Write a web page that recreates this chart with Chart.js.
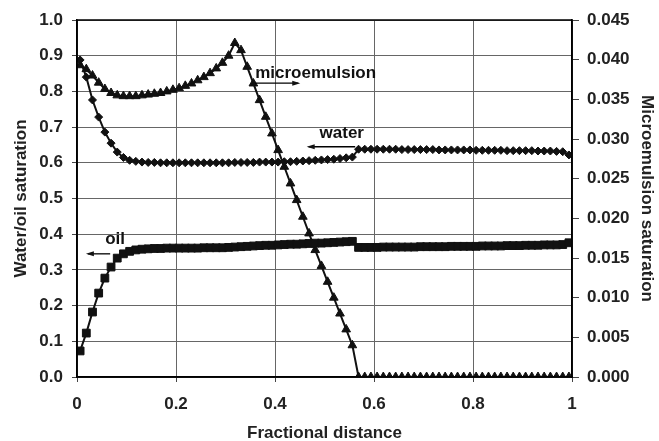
<!DOCTYPE html>
<html>
<head>
<meta charset="utf-8">
<script src="https://cdn.jsdelivr.net/npm/chart.js@4"></script>
<style>
  html, body { margin: 0; padding: 0; background: #fff; }
  #wrap { width: 659px; height: 441px; }
</style>
</head>
<body>
<div id="wrap"><canvas id="chart" width="659" height="441"></canvas></div>
<script>
// grid cell centres (fractional distance)
const distance = [
  0.0063, 0.0188, 0.0313, 0.0438, 0.0563, 0.0688, 0.0813, 0.0938, 0.1063, 0.1188,
  0.1313, 0.1438, 0.1563, 0.1688, 0.1813, 0.1938, 0.2063, 0.2188, 0.2313, 0.2438,
  0.2563, 0.2688, 0.2813, 0.2938, 0.3063, 0.3188, 0.3313, 0.3438, 0.3563, 0.3688,
  0.3813, 0.3938, 0.4063, 0.4188, 0.4313, 0.4438, 0.4563, 0.4688, 0.4813, 0.4938,
  0.5063, 0.5188, 0.5313, 0.5438, 0.5563, 0.5688, 0.5813, 0.5938, 0.6063, 0.6188,
  0.6313, 0.6438, 0.6563, 0.6688, 0.6813, 0.6938, 0.7063, 0.7188, 0.7313, 0.7438,
  0.7563, 0.7688, 0.7813, 0.7938, 0.8063, 0.8188, 0.8313, 0.8438, 0.8563, 0.8688,
  0.8813, 0.8938, 0.9063, 0.9188, 0.9313, 0.9438, 0.9563, 0.9688, 0.9813, 0.9938
];

// water saturation (left axis)
const water = [
  0.888, 0.840, 0.776, 0.728, 0.686, 0.655, 0.630, 0.615, 0.607, 0.604,
  0.602, 0.601, 0.601, 0.600, 0.600, 0.600, 0.600, 0.600, 0.600, 0.600,
  0.600, 0.600, 0.600, 0.600, 0.600, 0.601, 0.601, 0.601, 0.601, 0.602,
  0.602, 0.602, 0.602, 0.603, 0.603, 0.604, 0.605, 0.606, 0.607, 0.608,
  0.609, 0.610, 0.612, 0.614, 0.616, 0.638, 0.638, 0.638, 0.638, 0.638,
  0.638, 0.638, 0.637, 0.637, 0.637, 0.637, 0.637, 0.637, 0.636, 0.636,
  0.636, 0.636, 0.636, 0.636, 0.635, 0.635, 0.635, 0.635, 0.635, 0.634,
  0.634, 0.634, 0.634, 0.634, 0.633, 0.633, 0.633, 0.632, 0.631, 0.622
];

// oil saturation (left axis)
const oil = [
  0.073, 0.123, 0.182, 0.235, 0.277, 0.308, 0.333, 0.345, 0.352, 0.356,
  0.358, 0.359, 0.360, 0.360, 0.361, 0.361, 0.361, 0.361, 0.361, 0.361,
  0.362, 0.362, 0.362, 0.362, 0.363, 0.364, 0.365, 0.366, 0.367, 0.368,
  0.369, 0.369, 0.370, 0.371, 0.372, 0.372, 0.373, 0.374, 0.375, 0.375,
  0.376, 0.377, 0.378, 0.379, 0.380, 0.363, 0.363, 0.363, 0.363, 0.364,
  0.364, 0.364, 0.364, 0.364, 0.364, 0.365, 0.365, 0.365, 0.365, 0.365,
  0.366, 0.366, 0.366, 0.366, 0.366, 0.367, 0.367, 0.367, 0.367, 0.368,
  0.368, 0.368, 0.369, 0.369, 0.369, 0.370, 0.370, 0.370, 0.371, 0.376
];

// microemulsion saturation (right axis)
const microemulsion = [
  0.0393, 0.0388, 0.0380, 0.0371, 0.0363, 0.0358, 0.0355, 0.0354, 0.0354, 0.0354,
  0.0355, 0.0356, 0.0357, 0.0358, 0.0360, 0.0362, 0.0364, 0.0367, 0.0370, 0.0374,
  0.0378, 0.0383, 0.0389, 0.0396, 0.0405, 0.0421, 0.0412, 0.0391, 0.0370, 0.0349,
  0.0328, 0.0307, 0.0286, 0.0265, 0.0244, 0.0223, 0.0202, 0.0181, 0.0160, 0.0140,
  0.0120, 0.0100, 0.0080, 0.0060, 0.0040, 0, 0, 0, 0, 0,
  0, 0, 0, 0, 0, 0, 0, 0, 0, 0,
  0, 0, 0, 0, 0, 0, 0, 0, 0, 0,
  0, 0, 0, 0, 0, 0, 0, 0, 0, 0
];

const FONT = '"Liberation Sans", Arial, sans-serif';

function pts(ys) {
  return distance.map((x, i) => ({ x: x, y: ys[i] }));
}

// text labels with arrows, in data units
const notes = [
  { text: 'microemulsion', tx: 0.36, ty: 0.852, ax0: 0.36, ax1: 0.447, ay: 0.823 },
  { text: 'water', tx: 0.49, ty: 0.683, ax0: 0.562, ax1: 0.468, ay: 0.645 },
  { text: 'oil', tx: 0.057, ty: 0.387, ax0: 0.067, ax1: 0.022, ay: 0.345 }
];

const extras = {
  id: 'extras',
  afterDatasetsDraw(chart) {
    const ctx = chart.ctx, a = chart.chartArea;
    const sx = chart.scales.x, sy = chart.scales.y;
    ctx.save();
    ctx.strokeStyle = '#000';
    ctx.lineWidth = 1.5;
    ctx.strokeRect(a.left, a.top, a.right - a.left, a.bottom - a.top);

    ctx.fillStyle = '#111';
    ctx.font = 'bold 17px ' + FONT;
    ctx.textBaseline = 'middle';
    ctx.textAlign = 'left';
    notes.forEach(n => {
      ctx.fillText(n.text, sx.getPixelForValue(n.tx), sy.getPixelForValue(n.ty));
      const x0 = sx.getPixelForValue(n.ax0), x1 = sx.getPixelForValue(n.ax1);
      const y = sy.getPixelForValue(n.ay);
      const dir = x1 > x0 ? 1 : -1;
      ctx.lineWidth = 1.3;
      ctx.beginPath();
      ctx.moveTo(x0, y);
      ctx.lineTo(x1, y);
      ctx.stroke();
      ctx.beginPath();
      ctx.moveTo(x1 + dir * 2, y);
      ctx.lineTo(x1 - dir * 6, y - 2.5);
      ctx.lineTo(x1 - dir * 6, y + 2.5);
      ctx.closePath();
      ctx.fill();
    });
    ctx.restore();
  }
};

const tickFont = { family: FONT, size: 17, weight: 'bold' };
const titleFont = { family: FONT, size: 17, weight: 'bold', lineHeight: 1 };

new Chart(document.getElementById('chart'), {
  type: 'line',
  data: {
    datasets: [
      {
        label: 'water', data: pts(water), yAxisID: 'y',
        borderColor: '#111', backgroundColor: '#111', borderWidth: 2,
        pointStyle: 'rectRot', pointRadius: 4, pointBorderWidth: 1
      },
      {
        label: 'oil', data: pts(oil), yAxisID: 'y',
        borderColor: '#111', backgroundColor: '#111', borderWidth: 2,
        pointStyle: 'rect', pointRadius: 5.5, pointBorderWidth: 1
      },
      {
        label: 'microemulsion', data: pts(microemulsion), yAxisID: 'y1',
        borderColor: '#111', backgroundColor: '#111', borderWidth: 2,
        pointStyle: 'triangle', pointRadius: 5, pointBorderWidth: 1
      }
    ]
  },
  options: {
    responsive: false,
    animation: false,
    layout: { padding: { top: 20, left: 0, right: 0, bottom: 0 } },
    plugins: { legend: { display: false }, tooltip: { enabled: false } },
    scales: {
      x: {
        type: 'linear', min: 0, max: 1,
        afterFit: s => { s.height = 64; },
        ticks: { stepSize: 0.2, color: '#222', padding: 12, callback: v => String(Number(v.toFixed(1))), font: tickFont },
        grid: { color: '#666', lineWidth: 1, tickLength: 5, tickColor: '#444' },
        border: { color: '#000', width: 1.5 },
        title: { display: true, text: 'Fractional distance', color: '#222', padding: { top: 0, bottom: -1 }, font: titleFont }
      },
      y: {
        position: 'left', min: 0, max: 1,
        afterFit: s => { s.width = 77; },
        ticks: { stepSize: 0.1, color: '#222', padding: 9, callback: v => v.toFixed(1), font: tickFont },
        grid: { color: '#666', lineWidth: 1, tickLength: 5, tickColor: '#444' },
        border: { color: '#000', width: 1.5 },
        title: { display: true, text: 'Water/oil saturation', color: '#222', padding: { top: 13, bottom: 4 }, font: titleFont }
      },
      y1: {
        position: 'right', min: 0, max: 0.045,
        afterFit: s => { s.width = 87; },
        ticks: { stepSize: 0.005, color: '#222', padding: 8, callback: v => v.toFixed(3), font: tickFont },
        grid: { drawOnChartArea: false, tickLength: 7, tickColor: '#444' },
        border: { color: '#000', width: 1.5 },
        title: { display: true, text: 'Microemulsion saturation', color: '#222', padding: { top: 4, bottom: 4 }, font: titleFont }
      }
    }
  },
  plugins: [extras]
});
</script>
</body>
</html>
